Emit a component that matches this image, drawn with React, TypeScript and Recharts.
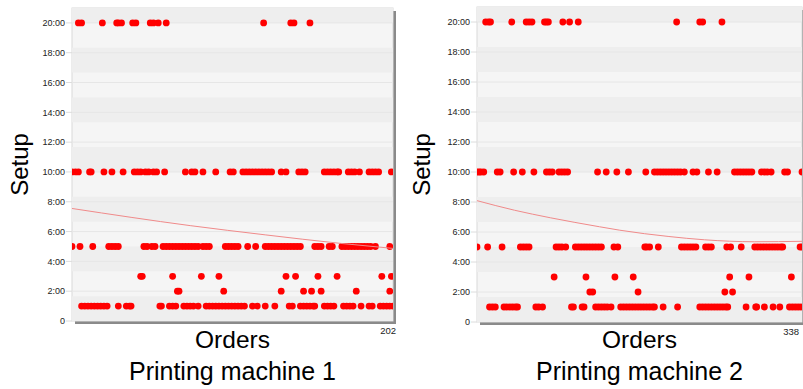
import React from 'react';
import { ScatterChart, Scatter, XAxis, YAxis, ReferenceArea, ReferenceLine } from 'recharts';

const FONT = '"Liberation Sans", Arial, Helvetica, sans-serif';

// Y axis (setup time, hours)
const yTicks = [0, 2, 4, 6, 8, 10, 12, 14, 16, 18, 20];
const yMax = 21;
// alternating darker background stripes (every 1:40)
const darkBands: [number, number][] = [
  [0, 1.667], [3.333, 5], [6.667, 8.333], [10, 11.667], [13.333, 15], [16.667, 18.333], [20, 21],
];

// ---------- Printing machine 1 (202 orders) ----------
const m1Orders = 202;
const m1Setup20 = [5, 7, 20, 29, 30, 32, 39, 41, 50, 52, 55, 60, 121, 138, 140, 150];
const m1Setup10 = [1, 3, 5, 12, 13, 21, 26, 33, 40, 42, 44, 47, 49, 52, 54, 59, 72, 76, 78, 83, 91, 100, 102,
  108, 110, 112, 114, 116, 118, 120, 122, 124, 126, 132, 135, 143, 145, 147, 159, 161, 163, 165, 167, 168,
  174, 176, 178, 181, 187, 189, 191, 193, 201];
const m1Setup5 = [1, 6, 14, 24, 26, 28, 30, 46, 48, 51, 53, 58, 60, 62, 64, 66, 68, 70, 72, 74, 76, 78, 80,
  83, 85, 87, 97, 99, 101, 103, 105, 111, 116, 122, 124, 126, 128, 130, 132, 134, 136, 138, 140, 142, 144,
  153, 155, 157, 162, 164, 170, 172, 174, 176, 178, 180, 182, 184, 186, 188, 191, 200];
const m1Setup3 = [44, 45, 64, 82, 93, 135, 141, 155, 167, 195, 201];
const m1Setup2 = [67, 68, 96, 132, 146, 151, 157, 179, 200];
const m1Setup1 = [7, 9, 11, 13, 15, 17, 19, 21, 23, 30, 35, 37, 38, 56, 57, 62, 64, 66, 71, 73, 75, 77, 80,
  85, 87, 89, 91, 93, 95, 97, 99, 101, 103, 105, 107, 109, 114, 117, 122, 128, 137, 139, 144, 146, 148, 150,
  152, 153, 159, 161, 163, 165, 171, 173, 175, 177, 182, 187, 189, 194, 196, 198, 200, 202];
const m1TrendOrder = [1, 75, 122, 169, 202];
const m1TrendValue = [7.55, 6.4, 5.78, 5.21, 4.87];

// ---------- Printing machine 2 (338 orders) ----------
const m2Orders = 338;
const m2Setup20 = [10, 13, 15, 37, 52, 55, 58, 71, 73, 75, 90, 97, 106, 208, 232, 235, 255];
const m2Setup10 = [1, 3, 5, 8, 22, 25, 39, 48, 60, 73, 76, 79, 86, 89, 92, 95, 126, 135, 146, 158, 176,
  185, 188, 191, 194, 197, 200, 203, 206, 209, 212, 216, 225, 229, 241, 250, 268, 271, 274, 277, 280, 283,
  286, 296, 299, 302, 306, 320, 323, 338];
const m2Setup5 = [1, 12, 27, 46, 49, 52, 55, 83, 86, 89, 93, 103, 106, 109, 112, 115, 118, 121, 124, 127,
  130, 143, 147, 175, 177, 180, 189, 213, 216, 219, 222, 225, 228, 238, 241, 244, 260, 264, 275, 289, 292,
  295, 298, 301, 304, 307, 310, 313, 316, 318, 336, 338];
const m2Setup3 = [81, 114, 144, 163, 263, 283, 327];
const m2Setup2 = [118, 121, 168, 258, 266];
const m2Setup1 = [14, 17, 20, 29, 32, 35, 38, 41, 43, 62, 65, 69, 99, 101, 110, 112, 124, 127, 130, 133,
  136, 140, 150, 153, 156, 159, 162, 165, 168, 171, 174, 177, 180, 183, 185, 194, 209, 232, 235, 238, 241,
  244, 247, 250, 253, 256, 259, 261, 280, 290, 291, 299, 308, 315, 325, 328, 331, 334, 337];
const m2TrendOrder = [1, 40, 77, 128, 149, 200, 237, 289, 338];
const m2TrendValue = [8.09, 7.45, 6.95, 6.35, 6.12, 5.7, 5.48, 5.35, 5.38];

const toPoints = (orders: number[], level: number) => orders.map((o) => ({ x: o, y: level }));

const Dot = (props: any) => {
  const { cx, cy } = props;
  if (cx == null || cy == null) return <g />;
  return <circle cx={cx} cy={cy} r={3.4} fill="#ff0000" />;
};
const NoDot = () => <g />;

type PanelProps = {
  left: number;
  width: number;
  margin: { top: number; right: number; bottom: number; left: number };
  orders: number;
  levels: { level: number; orders: number[] }[];
  trendOrder: number[];
  trendValue: number[];
  title: string;
  setupOffset: number;
};

function Panel({ left, width, margin, orders, levels, trendOrder, trendValue, title, setupOffset }: PanelProps) {
  const trend = trendOrder.map((o, i) => ({ x: o, y: trendValue[i] }));
  const Frame = (p: any) => {
    const { x, y, width: w, height: h } = p;
    return (
      <g>
        <rect x={x + 3} y={y + 3} width={w} height={h} fill="#8a8a8a" />
        <rect x={x} y={y} width={w} height={h} fill="#f5f5f5" stroke="#d9d9d9" strokeWidth={1} />
        <text
          x={x + setupOffset}
          y={y + h / 2}
          transform={`rotate(-90 ${x + setupOffset} ${y + h / 2})`}
          textAnchor="middle"
          fontSize={24}
          fontFamily={FONT}
          fill="#000"
        >
          Setup
        </text>
        <text x={x + w / 2} y={348} textAnchor="middle" fontSize={24.5} fontFamily={FONT} fill="#000">
          Orders
        </text>
        <text x={x + w / 2} y={380} textAnchor="middle" fontSize={25} fontFamily={FONT} fill="#000">
          {title}
        </text>
      </g>
    );
  };
  const XTick = (p: any) => (
    <text x={p.x + 8} y={p.y + 13} textAnchor="end" fontSize={9.5} fontFamily={FONT} fill="#222">
      {p.payload.value}
    </text>
  );
  return (
    <div style={{ position: 'absolute', left, top: 0 }}>
      <ScatterChart width={width} height={389} margin={margin}>
        <XAxis
          type="number"
          dataKey="x"
          domain={[1, orders]}
          ticks={[orders]}
          allowDataOverflow
          axisLine={false}
          tickLine={false}
          tickSize={0}
          tickMargin={0}
          height={30}
          tick={<XTick />}
        />
        <YAxis
          type="number"
          dataKey="y"
          domain={[0, yMax]}
          ticks={yTicks}
          interval={0}
          width={72}
          axisLine={false}
          tickLine={{ stroke: '#dcdcdc' }}
          tickSize={6}
          tickMargin={1}
          tickFormatter={(v: number) => (v === 0 ? '0' : `${v}:00`)}
          tick={{ fontSize: 9, fill: '#222', fontFamily: FONT }}
        />
        <ReferenceArea x1={1} x2={orders} y1={0} y2={yMax} shape={<Frame />} zIndex={-100} />
        {darkBands.map(([a, b], i) => (
          <ReferenceArea key={'b' + i} x1={1} x2={orders} y1={a} y2={b} fill="#eeeeee" fillOpacity={1} stroke="none" zIndex={-90} />
        ))}
        {yTicks.slice(1).map((t) => (
          <ReferenceLine key={'g' + t} y={t} stroke="#e6e6e6" strokeWidth={1} zIndex={-80} />
        ))}
        {levels.map((l) => (
          <Scatter key={l.level} data={toPoints(l.orders, l.level)} shape={<Dot />} isAnimationActive={false} />
        ))}
        <Scatter
          data={trend}
          shape={<NoDot />}
          line={{ stroke: '#f08a8a', strokeWidth: 1 }}
          lineJointType="monotoneX"
          isAnimationActive={false}
        />
      </ScatterChart>
    </div>
  );
}

export default function App() {
  return (
    <div style={{ position: 'absolute', left: 0, top: 0, width: 803, height: 389, background: '#fff', overflow: 'hidden', fontFamily: FONT }}>
      <Panel
        left={0}
        width={400}
        margin={{ top: 8, right: 7, bottom: 38, left: 0 }}
        orders={m1Orders}
        levels={[
          { level: 20, orders: m1Setup20 },
          { level: 10, orders: m1Setup10 },
          { level: 5, orders: m1Setup5 },
          { level: 3, orders: m1Setup3 },
          { level: 2, orders: m1Setup2 },
          { level: 1, orders: m1Setup1 },
        ]}
        trendOrder={m1TrendOrder}
        trendValue={m1TrendValue}
        title="Printing machine 1"
        setupOffset={-44}
      />
      <Panel
        left={405}
        width={398}
        margin={{ top: 7, right: 1, bottom: 37, left: 0 }}
        orders={m2Orders}
        levels={[
          { level: 20, orders: m2Setup20 },
          { level: 10, orders: m2Setup10 },
          { level: 5, orders: m2Setup5 },
          { level: 3, orders: m2Setup3 },
          { level: 2, orders: m2Setup2 },
          { level: 1, orders: m2Setup1 },
        ]}
        trendOrder={m2TrendOrder}
        trendValue={m2TrendValue}
        title="Printing machine 2"
        setupOffset={-47}
      />
    </div>
  );
}
